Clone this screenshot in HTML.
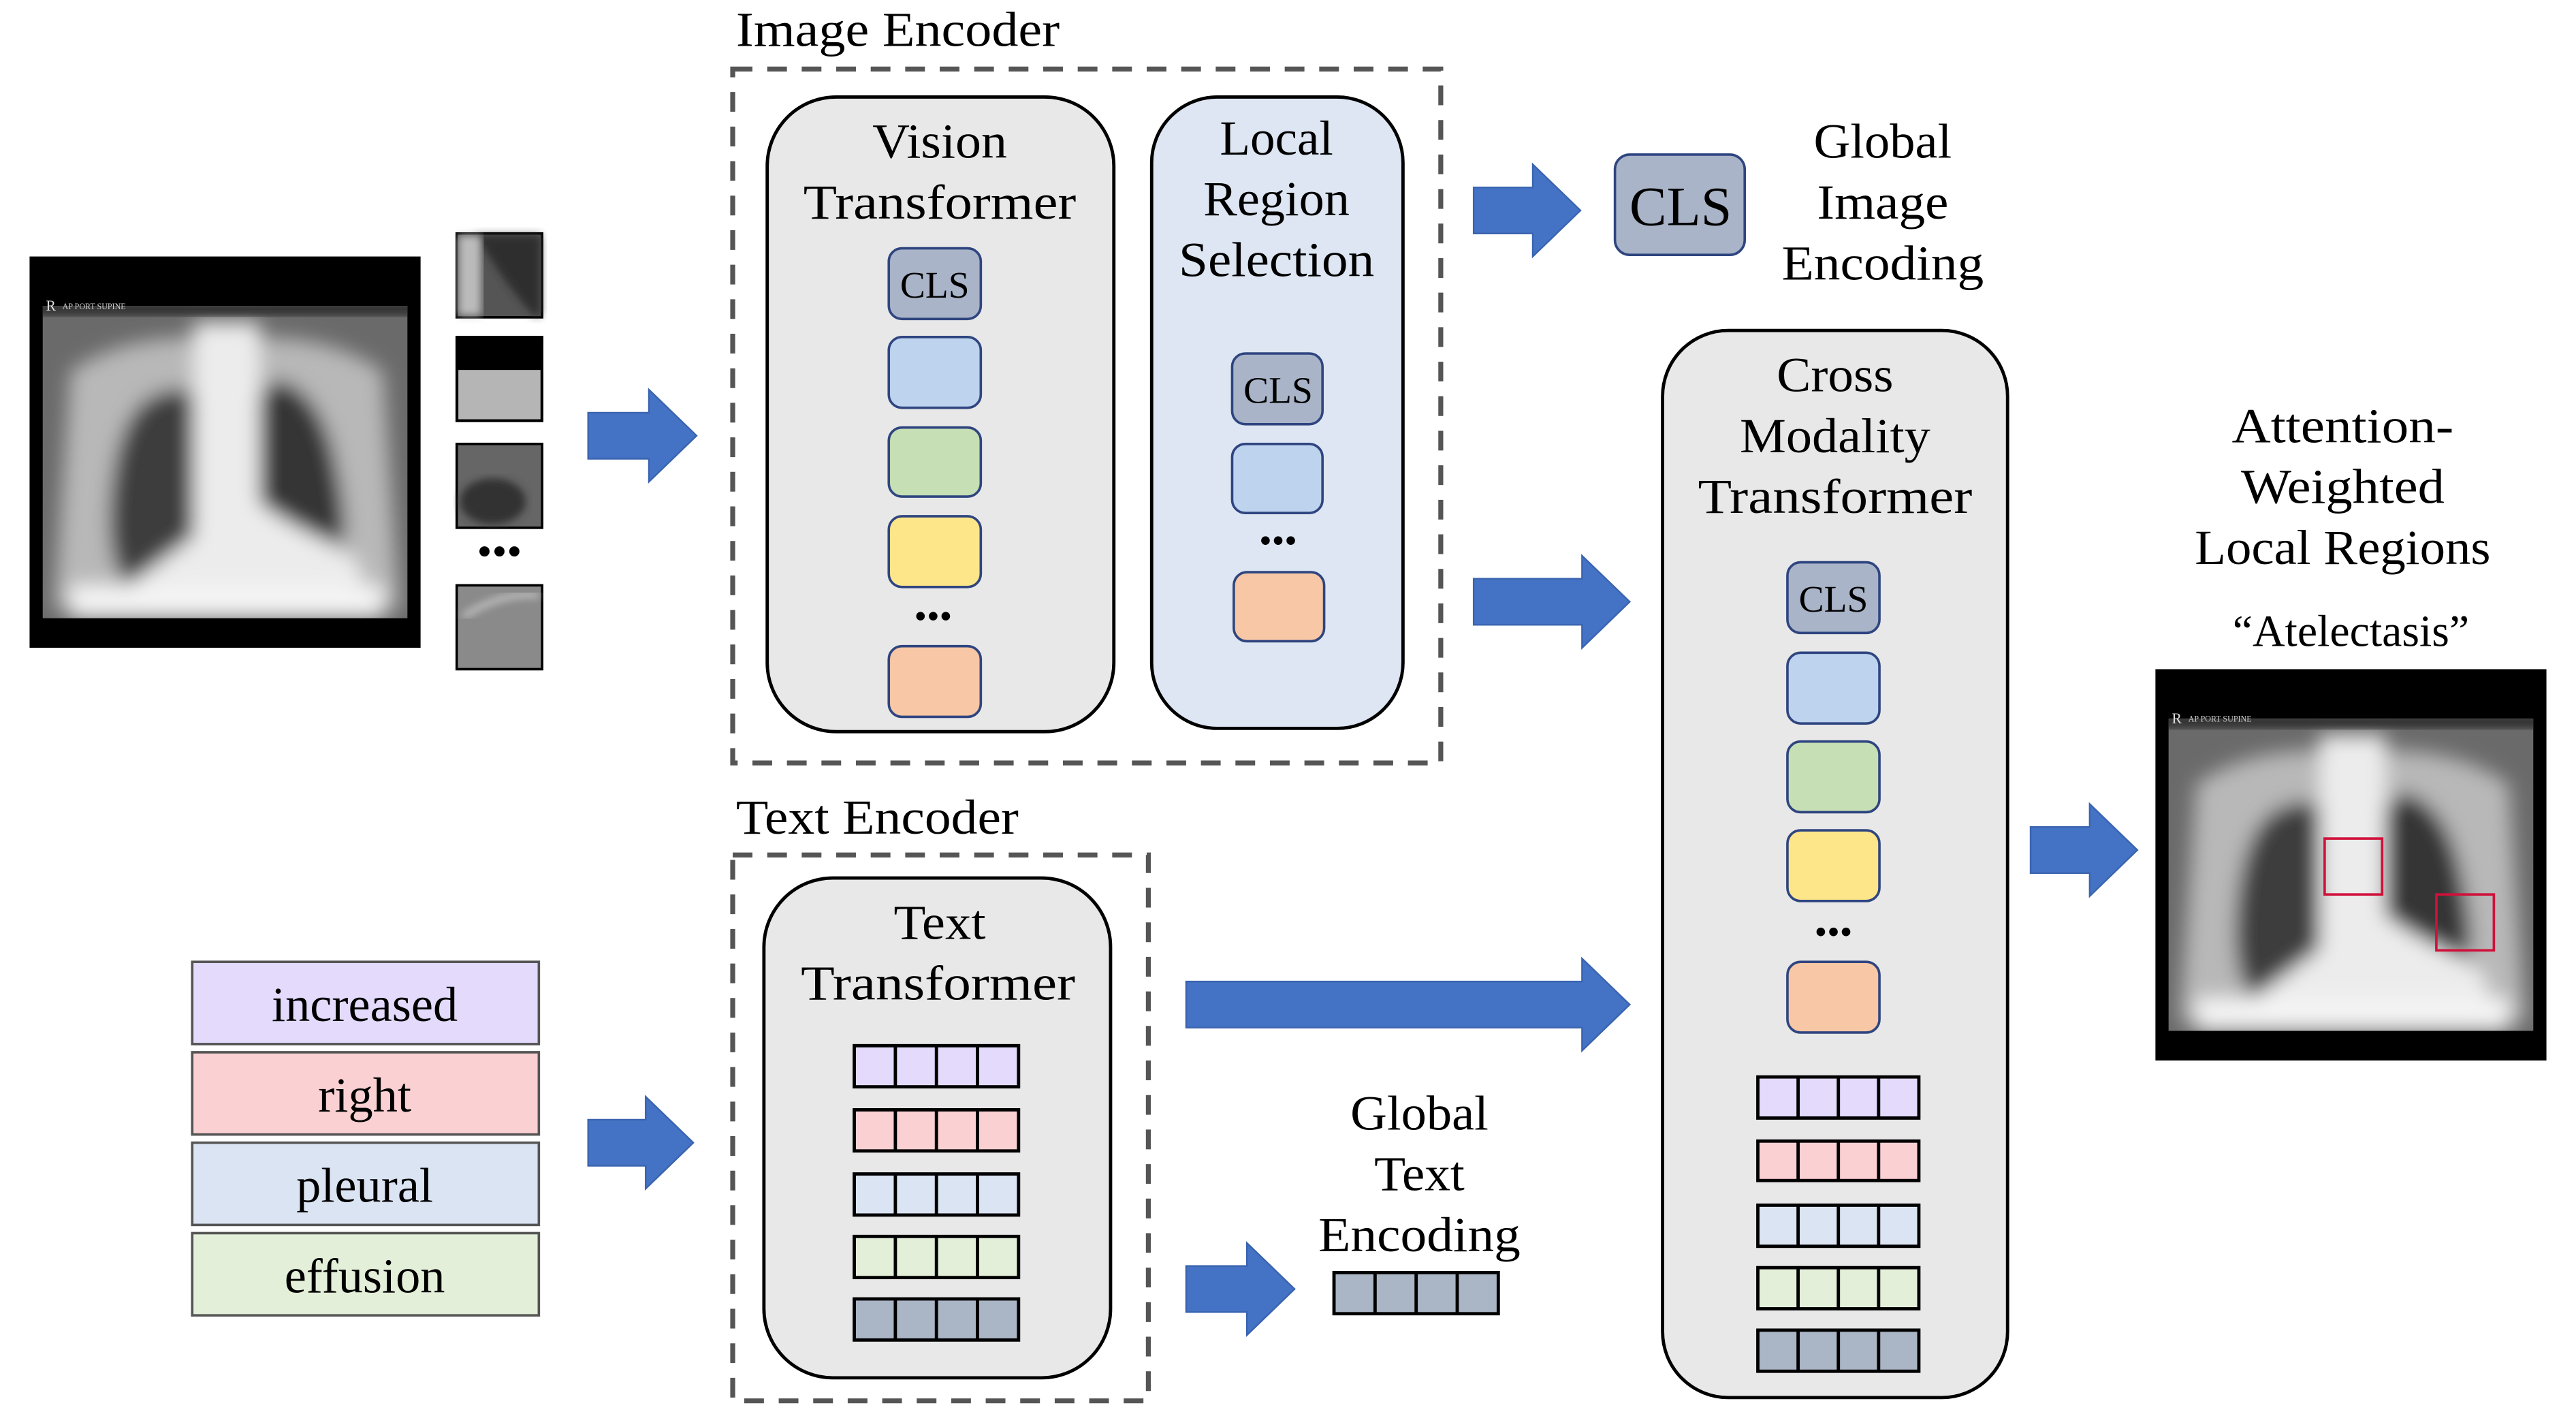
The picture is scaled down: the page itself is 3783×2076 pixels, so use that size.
<!DOCTYPE html>
<html><head><meta charset="utf-8"><style>
html,body{margin:0;padding:0;background:#fff;}
svg{display:block;}
text{font-family:"Liberation Serif",serif;fill:#000;}
</style></head><body>
<svg width="3783" height="2076" viewBox="0 0 1568 860" preserveAspectRatio="none" xmlns="http://www.w3.org/2000/svg">
<defs>
<filter id="bl" x="-20%" y="-20%" width="140%" height="140%"><feGaussianBlur stdDeviation="6"/></filter>
<filter id="bl2"><feGaussianBlur stdDeviation="2.5"/></filter>
<clipPath id="xc"><rect x="8" y="30" width="222" height="190"/></clipPath>
<g id="xray">
<rect x="0" y="0" width="238" height="238" fill="#000"/>
<g clip-path="url(#xc)">
<rect x="0" y="0" width="238" height="238" fill="#6a6a6a"/>
<g filter="url(#bl)">
<path d="M25 70 Q60 45 120 50 Q180 45 215 70 L225 215 L15 215Z" fill="#b8b8b8"/>
<path d="M75 85 Q55 95 50 140 Q45 185 60 200 Q90 200 110 190 Q110 130 105 90 Q95 75 75 85Z" fill="#3c3c3c"/>
<path d="M150 75 Q175 80 185 120 Q195 165 190 175 Q160 165 140 150 Q135 110 140 85Z" fill="#353535"/>
<path d="M100 40 L140 40 L140 150 Q170 170 200 185 L205 215 L40 215 Q60 200 100 170Z" fill="#ececec"/>
<rect x="25" y="200" width="190" height="20" fill="#f4f4f4"/>
</g>
<rect x="0" y="28" width="238" height="8" fill="#333" filter="url(#bl2)"/>
</g>
<text x="10" y="33" font-size="9" style="fill:#ddd">R</text>
<text x="20" y="32" font-size="5" style="fill:#ccc">AP PORT SUPINE</text>
</g>
</defs>

<!-- left x-ray -->
<use href="#xray" transform="translate(18,156)"/>
<!-- patches -->
<rect x="278" y="142" width="52" height="51" fill="#555" stroke="#000" stroke-width="1.5"/>
<path d="M290 143 Q305 170 325 192 L329 192 L329 143Z" fill="#2e2e2e" filter="url(#bl2)"/>
<rect x="279" y="143" width="14" height="49" fill="#bbb" filter="url(#bl2)"/>
<rect x="278" y="205" width="52" height="51" fill="#000" stroke="#000" stroke-width="1.5"/>
<rect x="279" y="225" width="50" height="30" fill="#b5b5b5"/>
<rect x="278" y="270" width="52" height="51" fill="#666" stroke="#000" stroke-width="1.5"/>
<ellipse cx="300" cy="305" rx="20" ry="14" fill="#333" filter="url(#bl2)"/>
<text x="304" y="344" font-size="26" text-anchor="middle">•••</text>
<rect x="278" y="356" width="52" height="51" fill="#8a8a8a" stroke="#000" stroke-width="1.5"/>
<path d="M282 375 Q305 360 328 362" stroke="#ccc" stroke-width="3" fill="none" filter="url(#bl2)"/>

<!-- arrows -->
<g fill="#4472c4" stroke="#3a64b0" stroke-width="1">
<path d="M358 251 H395 V237 L424 265 L395 293 V279 H358Z"/>
<path d="M897 114 H933 V100 L962 128 L933 156 V142 H897Z"/>
<path d="M897 352 H963 V338 L992 366 L963 394 V380 H897Z"/>
<path d="M1236 503 H1272 V489 L1301 517 L1272 545 V531 H1236Z"/>
<path d="M358 681 H393 V667 L422 695 L393 723 V709 H358Z"/>
<path d="M722 597 H963 V583 L992 611 L963 639 V625 H722Z"/>
<path d="M722 770 H759 V756 L788 784 L759 812 V798 H722Z"/>
</g>

<g font-size="30" text-anchor="middle" lengthAdjust="spacingAndGlyphs">
<!-- Image encoder -->
<text x="448" y="28" text-anchor="start" textLength="197" lengthAdjust="spacingAndGlyphs">Image Encoder</text>
<text x="572" y="96" textLength="82" lengthAdjust="spacingAndGlyphs">Vision</text>
<text x="572" y="133" textLength="166" lengthAdjust="spacingAndGlyphs">Transformer</text>
<text x="777" y="94" textLength="69" lengthAdjust="spacingAndGlyphs">Local</text>
<text x="777" y="131" textLength="89" lengthAdjust="spacingAndGlyphs">Region</text>
<text x="777" y="168" textLength="119" lengthAdjust="spacingAndGlyphs">Selection</text>
<text x="1146" y="96" textLength="84" lengthAdjust="spacingAndGlyphs">Global</text>
<text x="1146" y="133" textLength="80" lengthAdjust="spacingAndGlyphs">Image</text>
<text x="1146" y="170" textLength="123" lengthAdjust="spacingAndGlyphs">Encoding</text>
<text x="1117" y="238" textLength="71" lengthAdjust="spacingAndGlyphs">Cross</text>
<text x="1117" y="275" textLength="116" lengthAdjust="spacingAndGlyphs">Modality</text>
<text x="1117" y="312" textLength="167" lengthAdjust="spacingAndGlyphs">Transformer</text>
<text x="1426" y="269" textLength="135" lengthAdjust="spacingAndGlyphs">Attention-</text>
<text x="1426" y="306" textLength="124" lengthAdjust="spacingAndGlyphs">Weighted</text>
<text x="1426" y="343" textLength="180" lengthAdjust="spacingAndGlyphs">Local Regions</text>
<text x="1431" y="393" font-size="27" textLength="144" lengthAdjust="spacingAndGlyphs">“Atelectasis”</text>
<text x="448" y="507" text-anchor="start" textLength="172" lengthAdjust="spacingAndGlyphs">Text Encoder</text>
<text x="572" y="571" textLength="56" lengthAdjust="spacingAndGlyphs">Text</text>
<text x="571" y="608" textLength="167" lengthAdjust="spacingAndGlyphs">Transformer</text>
<text x="864" y="687" textLength="84" lengthAdjust="spacingAndGlyphs">Global</text>
<text x="864" y="724" textLength="55" lengthAdjust="spacingAndGlyphs">Text</text>
<text x="864" y="761" textLength="123" lengthAdjust="spacingAndGlyphs">Encoding</text>
</g>

<rect x="446" y="42" width="431" height="422" fill="none" stroke="#555" stroke-width="3" stroke-dasharray="12,9"/>
<rect x="467" y="59" width="211" height="386" rx="42" fill="#e8e8e8" stroke="#000" stroke-width="2" fill-opacity="1" style="mix-blend-mode:multiply"/>
<g stroke="#2f4580" stroke-width="1.5">
<rect x="541" y="151" width="56" height="43" rx="8" fill="#a9b4c8"/>
<rect x="541" y="205" width="56" height="43" rx="8" fill="#bed3ee"/>
<rect x="541" y="260" width="56" height="42" rx="8" fill="#c6dfb4"/>
<rect x="541" y="314" width="56" height="43" rx="8" fill="#fde68a"/>
<rect x="541" y="393" width="56" height="43" rx="8" fill="#f8c7a5"/>
</g>
<text x="569" y="181" font-size="23" text-anchor="middle">CLS</text>
<text x="568" y="382" font-size="22" text-anchor="middle">•••</text>

<rect x="701" y="59" width="153" height="384" rx="40" fill="#dde6f2" stroke="#000" stroke-width="2" style="mix-blend-mode:multiply"/>
<g stroke="#2f4580" stroke-width="1.5">
<rect x="750" y="215" width="55" height="43" rx="8" fill="#a9b4c8"/>
<rect x="750" y="270" width="55" height="42" rx="8" fill="#bed3ee"/>
<rect x="751" y="348" width="55" height="42" rx="8" fill="#f8c7a5"/>
</g>
<text x="778" y="245" font-size="23" text-anchor="middle">CLS</text>
<text x="778" y="336" font-size="22" text-anchor="middle">•••</text>

<!-- global image encoding -->
<rect x="983" y="94" width="79" height="61" rx="9" fill="#a9b4c8" stroke="#2f4580" stroke-width="1.5"/>
<text x="1023" y="137" font-size="34" text-anchor="middle">CLS</text>

<!-- cross modality -->
<rect x="1012" y="201" width="210" height="649" rx="40" fill="#e8e8e8" stroke="#000" stroke-width="2" style="mix-blend-mode:multiply"/>
<g stroke="#2f4580" stroke-width="1.5">
<rect x="1088" y="342" width="56" height="43" rx="8" fill="#a9b4c8"/>
<rect x="1088" y="397" width="56" height="43" rx="8" fill="#bed3ee"/>
<rect x="1088" y="451" width="56" height="43" rx="8" fill="#c6dfb4"/>
<rect x="1088" y="505" width="56" height="43" rx="8" fill="#fde68a"/>
<rect x="1088" y="585" width="56" height="43" rx="8" fill="#f8c7a5"/>
</g>
<text x="1116" y="372" font-size="23" text-anchor="middle">CLS</text>
<text x="1116" y="574" font-size="22" text-anchor="middle">•••</text>
<g stroke="#000" stroke-width="2">
<rect x="1070" y="655" width="98" height="25" fill="#e3dafc"/>
<rect x="1070" y="694" width="98" height="24" fill="#fbd0d3"/>
<rect x="1070" y="733" width="98" height="25" fill="#dbe4f3"/>
<rect x="1070" y="771" width="98" height="25" fill="#e3efd9"/>
<rect x="1070" y="809" width="98" height="25" fill="#aab5c5"/>
<path d="M1094.5 655V680M1119 655V680M1143.5 655V680M1094.5 694V718M1119 694V718M1143.5 694V718M1094.5 733V758M1119 733V758M1143.5 733V758M1094.5 771V796M1119 771V796M1143.5 771V796M1094.5 809V834M1119 809V834M1143.5 809V834"/>
</g>

<!-- right -->
<use href="#xray" transform="translate(1312,407)"/>
<rect x="1415" y="510" width="35" height="34" fill="none" stroke="#d0103a" stroke-width="1.5"/>
<rect x="1483" y="544" width="35" height="34" fill="none" stroke="#d0103a" stroke-width="1.5"/>

<!-- text encoder -->
<rect x="446" y="520" width="253" height="332" fill="none" stroke="#555" stroke-width="3" stroke-dasharray="12,9"/>
<rect x="465" y="534" width="211" height="304" rx="42" fill="#e8e8e8" stroke="#000" stroke-width="2" style="mix-blend-mode:multiply"/>
<g stroke="#000" stroke-width="2">
<rect x="520" y="636" width="100" height="25" fill="#e3dafc"/>
<rect x="520" y="675" width="100" height="25" fill="#fbd0d3"/>
<rect x="520" y="714" width="100" height="25" fill="#dbe4f3"/>
<rect x="520" y="752" width="100" height="25" fill="#e3efd9"/>
<rect x="520" y="790" width="100" height="25" fill="#aab5c5"/>
<path d="M545 636V661M570 636V661M595 636V661M545 675V700M570 675V700M595 675V700M545 714V739M570 714V739M595 714V739M545 752V777M570 752V777M595 752V777M545 790V815M570 790V815M595 790V815"/>
<rect x="812" y="774" width="100" height="25" fill="#aab5c5"/>
<path d="M837 774V799M862 774V799M887 774V799"/>
</g>

<!-- words -->
<g stroke="#555" stroke-width="1.5">
<rect x="117" y="585" width="211" height="50" fill="#e3dafc"/>
<rect x="117" y="640" width="211" height="50" fill="#fbd0d3"/>
<rect x="117" y="695" width="211" height="50" fill="#dbe4f3"/>
<rect x="117" y="750" width="211" height="50" fill="#e3efd9"/>
</g>
<text x="222" y="621" font-size="30" text-anchor="middle">increased</text>
<text x="222" y="676" font-size="30" text-anchor="middle">right</text>
<text x="222" y="731" font-size="30" text-anchor="middle">pleural</text>
<text x="222" y="786" font-size="30" text-anchor="middle">effusion</text>
</svg>
</body></html>
